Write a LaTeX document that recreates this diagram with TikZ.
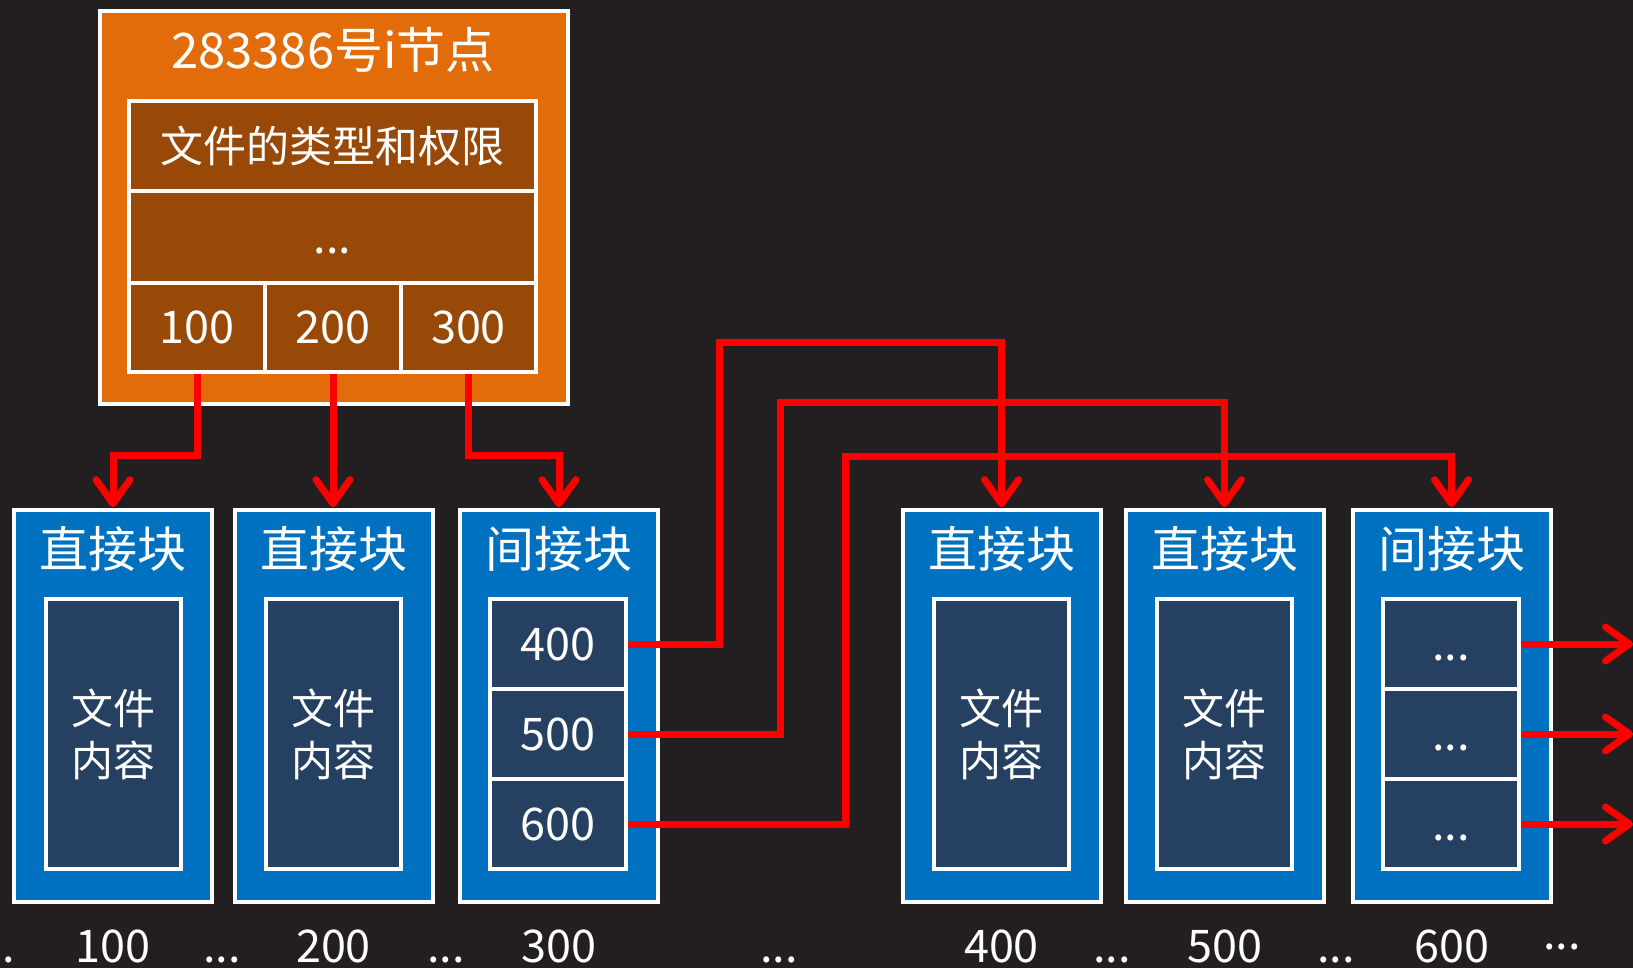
\documentclass[tikz,border=0pt]{standalone}
\usepackage{fontspec}
\newfontfamily\cjkfont{Noto Sans CJK SC}
\usepackage{tikz}
\usetikzlibrary{arrows.meta, positioning}

\definecolor{bgdark}{RGB}{35,31,32}
\definecolor{inodeorange}{RGB}{227,108,10}
\definecolor{inodebrown}{RGB}{152,72,7}
\definecolor{blockblue}{RGB}{0,112,192}
\definecolor{cellnavy}{RGB}{38,64,97}

\begin{document}
\begin{tikzpicture}[x=0.5pt,y=0.5pt,yscale=-1,xscale=1,
  wbox/.style={draw=white, line width=2pt, inner sep=0pt, outer sep=0pt},
  inode/.style={wbox, fill=inodeorange, minimum width=234pt, minimum height=196pt},
  ifield/.style={wbox, fill=inodebrown, minimum height=45pt},
  dblock/.style={wbox, fill=blockblue, minimum width=99pt, minimum height=195.8pt},
  dcell/.style={wbox, fill=cellnavy, minimum width=68pt, minimum height=45pt},
  dfile/.style={wbox, fill=cellnavy, minimum width=67.5pt, minimum height=135pt, align=center},
  bigtxt/.style={text=white, font=\cjkfont\fontsize{24.5pt}{28pt}\selectfont},
  midtxt/.style={text=white, font=\cjkfont\fontsize{21pt}{26pt}\selectfont},
  numtxt/.style={text=white, font=\cjkfont\fontsize{22.5pt}{26pt}\selectfont},
  ptr/.style={draw=red, line width=3.5pt, shorten <=1pt},
  ptrtip/.style={ptr, -{Straight Barb[round,length=12pt,width=17pt]}, shorten >=1.5pt}
]
\useasboundingbox (0,0) rectangle (1633,968);
\fill[bgdark] (0,0) rectangle (1633,968);

%Shape: inode
\node[inode] (inode) at (333.5,207.5) {};
% Text Node
\node[bigtxt] (ititle) at (333,50) {283386号i节点};
\node[ifield, midtxt, font=\cjkfont\fontsize{21.5pt}{26pt}\selectfont, minimum width=203.5pt] (tperm) at (332.5,146) {文件的类型和权限};
\node[ifield, numtxt, minimum width=203.5pt, minimum height=46pt] (tdots) at (332.5,237) {\vphantom{0}...};
\node[ifield, numtxt, minimum width=68pt, minimum height=44.5pt] (t100) at (197,327.5) {100};
\node[ifield, numtxt, minimum width=68pt, minimum height=44.5pt] (t200) at (333,327.5) {200};
\node[ifield, numtxt, minimum width=67.5pt, minimum height=44.5pt] (t300) at (468.5,327.5) {300};

%Shape: direct block 100
\node[dblock] (b1) at (113,706) {};
\node[bigtxt] (h1) at (113,549) {直接块};
\node[dfile, midtxt] (f1) at (113,734) {文件\\内容};
%Shape: direct block 200
\node[dblock] (b2) at (333.5,706) {};
\node[bigtxt] (h2) at (333.5,549) {直接块};
\node[dfile, midtxt] (f2) at (333.5,734) {文件\\内容};
%Shape: indirect block 300
\node[dblock] (b3) at (559,706) {};
\node[bigtxt] (h3) at (559,549) {间接块};
\node[dcell, numtxt] (c400) at (558,644) {400};
\node[dcell, numtxt] (c500) at (558,734) {500};
\node[dcell, numtxt] (c600) at (558,824) {600};
%Shape: direct block 400
\node[dblock] (b4) at (1001.5,706) {};
\node[bigtxt] (h4) at (1001.5,549) {直接块};
\node[dfile, midtxt] (f4) at (1001.5,734) {文件\\内容};
%Shape: direct block 500
\node[dblock] (b5) at (1224.5,706) {};
\node[bigtxt] (h5) at (1224.5,549) {直接块};
\node[dfile, midtxt] (f5) at (1224.5,734) {文件\\内容};
%Shape: indirect block 600
\node[dblock] (b6) at (1451.5,706) {};
\node[bigtxt] (h6) at (1451.5,549) {间接块};
\node[dcell, numtxt] (c6a) at (1451,644) {\vphantom{0}...};
\node[dcell, numtxt] (c6b) at (1451,734) {\vphantom{0}...};
\node[dcell, numtxt] (c6c) at (1451,824) {\vphantom{0}...};

% Text Node
\node[numtxt, anchor=base] (dl0) at (-4,962) {...};
\node[numtxt, anchor=base] (n100) at (113,962) {100};
\node[numtxt, anchor=base] (dl1) at (222,962) {...};
\node[numtxt, anchor=base] (n200) at (333.5,962) {200};
\node[numtxt, anchor=base] (dl2) at (446,962) {...};
\node[numtxt, anchor=base] (n300) at (559,962) {300};
\node[numtxt, anchor=base] (dl3) at (779,962) {...};
\node[numtxt, anchor=base] (n400) at (1001.5,962) {400};
\node[numtxt, anchor=base] (dl4) at (1112,962) {...};
\node[numtxt, anchor=base] (n500) at (1224.5,962) {500};
\node[numtxt, anchor=base] (dl5) at (1336,962) {...};
\node[numtxt, anchor=base] (n600) at (1451.5,962) {600};
\node[numtxt, anchor=base] (dl6) at (1562,949) {...};

\coordinate (out1) at (1636,644);
\coordinate (out2) at (1636,734);
\coordinate (out3) at (1636,824);

%Straight Lines: pointers
\draw[ptrtip] (t100.south) -- ++(0,83) -| (b1.north);
\draw[ptrtip] (t200.south) -- (t200.south |- b2.north);
\draw[ptrtip] (t300.south) -- ++(0,83) -| (b3.north);
\draw[ptrtip] (c400.east) -| (719,342) -| (b4.north);
\draw[ptrtip] (c500.east) -| (780,402) -| (b5.north);
\draw[ptrtip] (c600.east) -| (845,456) -| (b6.north);
\draw[ptrtip] (c6a.east) -- (out1);
\draw[ptrtip] (c6b.east) -- (out2);
\draw[ptrtip] (c6c.east) -- (out3);

\end{tikzpicture}
\end{document}
